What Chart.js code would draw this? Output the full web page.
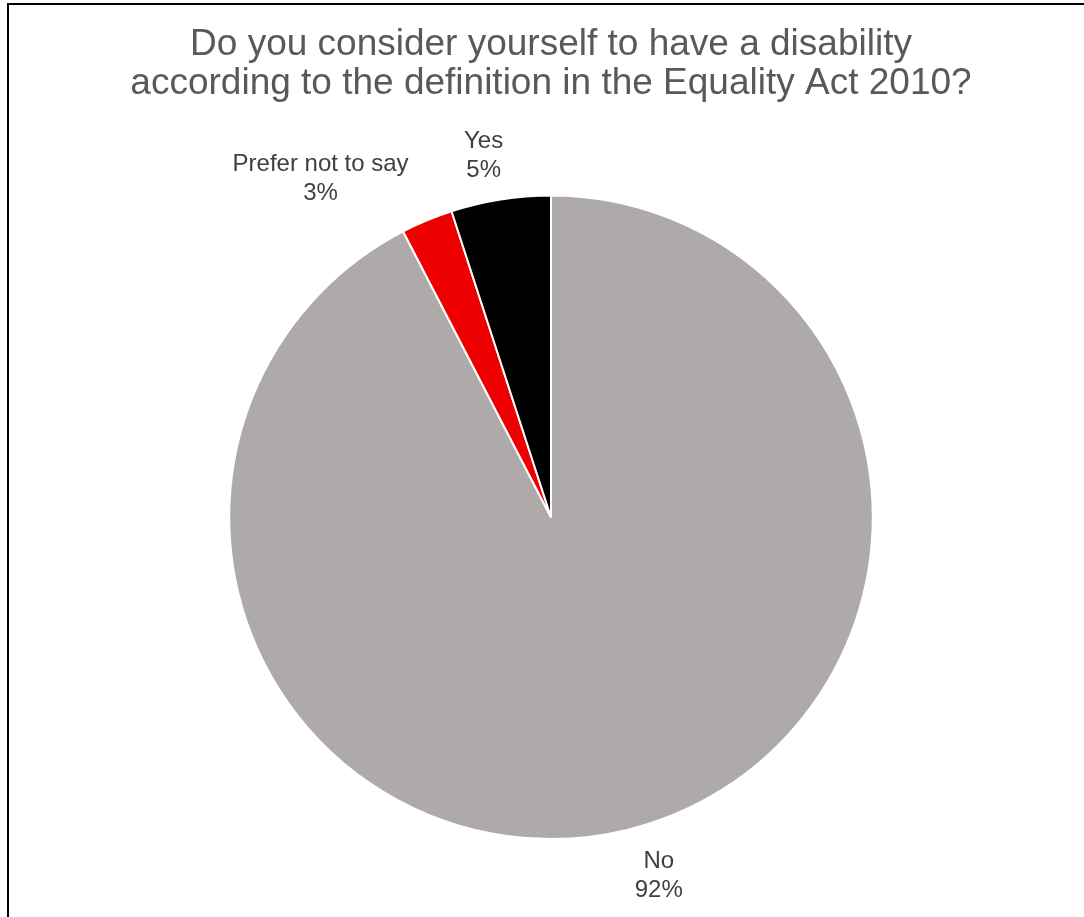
<!DOCTYPE html>
<html>
<head>
<meta charset="utf-8">
<script src="https://cdn.jsdelivr.net/npm/chart.js@4"></script>
<style>
  html, body { margin: 0; padding: 0; background: #fff; overflow: hidden; }
  #wrap { position: relative; width: 1084px; height: 917px; }
  #frame { position: absolute; left: 7px; top: 3px; width: 1200px; height: 1000px; border: 2px solid #000; box-sizing: border-box; }
</style>
</head>
<body>
<div id="wrap">
  <div id="frame"></div>
  <canvas id="pieChart"></canvas>
</div>
<script>
// Data
const categories = ["No", "Prefer not to say", "Yes"];
const percentages = [92.4, 2.6, 5.0];
const sliceColors = ["#AEAAAA", "#EE0000", "#000000"];

// label placement tweaks (px), one per slice
const labelNudgeX = [21, -89, -10];
const labelNudgeY = [2, 0, 0];
const labelGap = 45;

const fontFamily = "Arial, 'Liberation Sans', sans-serif";

// draws "name / xx%" outside each slice
const outsideLabels = {
  id: "outsideLabels",
  afterDatasetsDraw(chart) {
    const ctx = chart.ctx;
    const meta = chart.getDatasetMeta(0);
    ctx.save();
    ctx.font = "24px " + fontFamily;
    ctx.fillStyle = "#404040";
    ctx.textAlign = "center";
    ctx.textBaseline = "middle";
    meta.data.forEach((arc, i) => {
      const p = arc.getProps(["x", "y", "startAngle", "endAngle", "outerRadius"], true);
      const mid = (p.startAngle + p.endAngle) / 2;
      const r = p.outerRadius + labelGap;
      const cx = p.x + Math.cos(mid) * r + labelNudgeX[i];
      const cy = p.y + Math.sin(mid) * r + labelNudgeY[i];
      ctx.fillText(categories[i], cx, cy - 14);
      ctx.fillText(Math.round(percentages[i]) + "%", cx, cy + 15);
    });
    ctx.restore();
  }
};

new Chart(document.getElementById("pieChart"), {
  type: "pie",
  data: {
    labels: categories,
    datasets: [{
      data: percentages,
      backgroundColor: sliceColors,
      borderColor: "#ffffff",
      borderWidth: 2,
      hoverOffset: 0
    }]
  },
  options: {
    responsive: true,
    maintainAspectRatio: false,
    animation: false,
    layout: { padding: { top: 0, bottom: 77, left: 118, right: 100 } },
    plugins: {
      legend: { display: false },
      tooltip: { enabled: false },
      title: {
        display: true,
        text: ["Do you consider yourself to have a disability", "according to the definition in the Equality Act 2010?"],
        color: "#595959",
        font: { family: fontFamily, size: 37, weight: "normal", lineHeight: 1.06 },
        padding: { top: 25, bottom: 91 }
      }
    }
  },
  plugins: [outsideLabels]
});
</script>
</body>
</html>
